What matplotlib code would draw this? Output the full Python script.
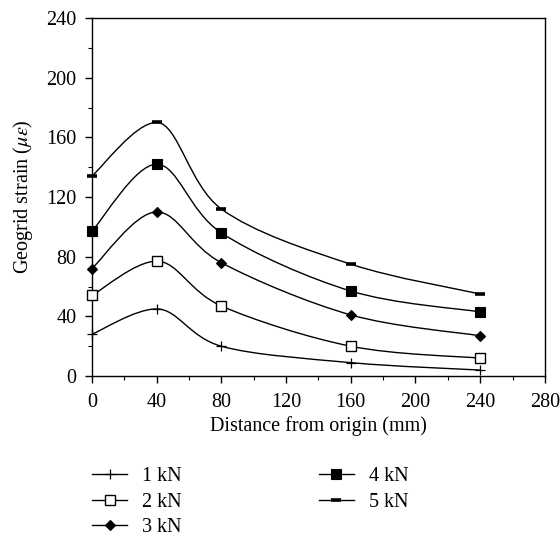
import matplotlib.pyplot as plt
from matplotlib.path import Path
from matplotlib.patches import PathPatch
from matplotlib.lines import Line2D

plt.rcParams['font.family'] = ['Liberation Serif', 'DejaVu Serif']
plt.rcParams['mathtext.fontset'] = 'stix'
plt.rcParams['font.size'] = 14.5

distance = [0, 40, 80, 160, 240]
strain_1kn = [28, 45, 20, 9, 4]
strain_2kn = [54, 77, 47, 20, 12]
strain_3kn = [72, 110, 76, 41, 27]
strain_4kn = [97, 142, 96, 57, 43]
strain_5kn = [134, 170, 112, 75, 55]
labels = ['1 kN', '2 kN', '3 kN', '4 kN', '5 kN']

series = [strain_1kn, strain_2kn, strain_3kn, strain_4kn, strain_5kn]
styles = [
    dict(marker='+', markersize=7, markerfacecolor='k', mew=0.9),
    dict(marker='s', markersize=7.2, markerfacecolor='white', mew=1.0),
    dict(marker='D', markersize=5.5, markerfacecolor='k', mew=0.8),
    dict(marker='s', markersize=7.6, markerfacecolor='k', mew=0.8),
    dict(marker='_', markersize=7.5, markerfacecolor='k', mew=2.6),
]


def smooth_path(xs, ys):
    # smoothed line drawn as Bezier segments through the data points,
    # flat tangent at local peaks
    pts = list(zip(xs, ys))
    n = len(pts)
    tang = []
    for i in range(n):
        a = pts[max(i - 1, 0)]
        b = pts[min(i + 1, n - 1)]
        tx, ty = (b[0] - a[0]) / 6, (b[1] - a[1]) / 6
        if 0 < i < n - 1 and (ys[i] - ys[i - 1]) * (ys[i + 1] - ys[i]) <= 0:
            ty = 0
        tang.append((tx, ty))
    verts = [pts[0]]
    codes = [Path.MOVETO]
    for i in range(n - 1):
        p1, p2 = pts[i], pts[i + 1]
        c1 = (p1[0] + tang[i][0], p1[1] + tang[i][1])
        c2 = (p2[0] - tang[i + 1][0], p2[1] - tang[i + 1][1])
        verts += [c1, c2, p2]
        codes += [Path.CURVE4] * 3
    return Path(verts, codes)


fig = plt.figure(figsize=(5.6, 5.45), dpi=100)
ax = fig.add_axes([0.164, 0.31, 0.809, 0.657])

handles = []
for ys, st, lab in zip(series, styles, labels):
    ax.add_patch(PathPatch(smooth_path(distance, ys), facecolor='none',
                           edgecolor='k', lw=1.0, zorder=2))
    ax.plot(distance, ys, linestyle='none', color='k', markeredgecolor='k',
            zorder=3, clip_on=False, **st)
    handles.append(Line2D([], [], color='k', lw=1.0, markeredgecolor='k',
                          label=lab, **st))

ax.set_xlim(0, 280)
ax.set_ylim(0, 240)
ax.set_xticks(range(0, 281, 40))
ax.set_yticks(range(0, 241, 40))
ax.set_xticks(range(20, 281, 40), minor=True)
ax.set_yticks(range(20, 241, 40), minor=True)
ax.tick_params(which='major', direction='out', length=5, width=1, top=False, right=False)
ax.tick_params(which='minor', direction='out', length=3, width=0.8, top=False, right=False)
ax.tick_params(axis='x', which='major', pad=7)
ax.tick_params(axis='y', which='major', pad=6)
for sp in ax.spines.values():
    sp.set_linewidth(1.0)

ax.set_xlabel('Distance from origin (mm)', labelpad=3)
ax.set_ylabel(r'Geogrid strain ($\mu\varepsilon$)', labelpad=8)

fig.legend(handles=handles, loc='upper left',
           bbox_to_anchor=(0.150, 0.158), ncol=2, frameon=False,
           handlelength=1.74, columnspacing=6.8, labelspacing=0.32,
           handletextpad=0.75, borderaxespad=0, fontsize=14.5)

fig.savefig('out.png', dpi=100)
